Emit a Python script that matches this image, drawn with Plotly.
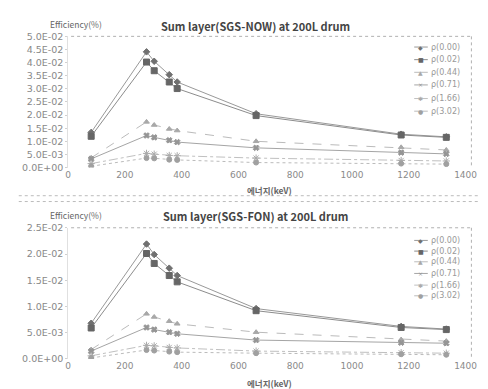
import plotly.graph_objects as go

W, H = 488, 389

energy_kev = [81, 276, 303, 356, 384, 662, 1173, 1332]
series_names = ["ρ(0.00)", "ρ(0.02)", "ρ(0.44)", "ρ(0.71)", "ρ(1.66)", "ρ(3.02)"]

now_eff_000 = [0.0134, 0.0441, 0.0405, 0.0354, 0.0326, 0.0205, 0.0127, 0.0117]
now_eff_002 = [0.0119, 0.0402, 0.0369, 0.0326, 0.0301, 0.0198, 0.0124, 0.0115]
now_eff_044 = [0.0037, 0.0174, 0.0162, 0.0147, 0.0141, 0.0100, 0.0077, 0.0067]
now_eff_071 = [0.0033, 0.0122, 0.0115, 0.0104, 0.0097, 0.0075, 0.0057, 0.0052]
now_eff_166 = [0.0015, 0.0054, 0.0051, 0.0046, 0.0045, 0.0036, 0.0027, 0.0025]
now_eff_302 = [0.0005, 0.0036, 0.0035, 0.0030, 0.0029, 0.0019, 0.0015, 0.0013]

fon_eff_000 = [0.0068, 0.0219, 0.0199, 0.0173, 0.0159, 0.0096, 0.0062, 0.0057]
fon_eff_002 = [0.0059, 0.0201, 0.0182, 0.0159, 0.0147, 0.0092, 0.0060, 0.0056]
fon_eff_044 = [0.0018, 0.0086, 0.0080, 0.0072, 0.0067, 0.0051, 0.0037, 0.0034]
fon_eff_071 = [0.0015, 0.0060, 0.0056, 0.0051, 0.0048, 0.0036, 0.0031, 0.0030]
fon_eff_166 = [0.0006, 0.0026, 0.0025, 0.0022, 0.0021, 0.0015, 0.0012, 0.0011]
fon_eff_302 = [0.0002, 0.0017, 0.0016, 0.0014, 0.0013, 0.0011, 0.0009, 0.0008]

now_series = [now_eff_000, now_eff_002, now_eff_044, now_eff_071, now_eff_166, now_eff_302]
fon_series = [fon_eff_000, fon_eff_002, fon_eff_044, fon_eff_071, fon_eff_166, fon_eff_302]

x_ticks = [0, 200, 400, 600, 800, 1000, 1200, 1400]
now_y_ticks = [0, 0.005, 0.01, 0.015, 0.02, 0.025, 0.03, 0.035, 0.04, 0.045, 0.05]
now_y_labels = ["0.0E+00", "5.0E-03", "1.0E-02", "1.5E-02", "2.0E-02", "2.5E-02",
                "3.0E-02", "3.5E-02", "4.0E-02", "4.5E-02", "5.0E-02"]
fon_y_ticks = [0, 0.005, 0.01, 0.015, 0.02, 0.025]
fon_y_labels = ["0.0E+00", "5.0E-03", "1.0E-02", "1.5E-02", "2.0E-02", "2.5E-02"]

title_now = "Sum layer(SGS-NOW) at 200L drum"
title_fon = "Sum layer(SGS-FON) at 200L drum"
y_title = "Efficiency(%)"
x_title = "에너지(keV)"

# styles (grayscale scan look)
styles = [
    dict(lc="#999999", dash="solid", sym="diamond", ms=5, mc="#707070", glyph="◆"),
    dict(lc="#8c8c8c", dash="solid", sym="square", ms=6, mc="#666666", glyph="■"),
    dict(lc="#bbbbbb", dash="dash", sym="triangle-up", ms=5, mc="#a8a8a8", glyph="▲"),
    dict(lc="#a5a5a5", dash="solid", sym="x", ms=5, mc="#959595", glyph="×"),
    dict(lc="#c0c0c0", dash="dashdot", sym="asterisk-open", ms=6, mc="#aaaaaa", glyph="✱"),
    dict(lc="#bbbbbb", dash="dot", sym="circle", ms=5, mc="#a0a0a0", glyph="●"),
]

FONT = "Noto Sans CJK KR, DejaVu Sans, sans-serif"

def px(x):
    return x / W

def py(y):
    return 1 - y / H

fig = go.Figure()

for i, (name, st) in enumerate(zip(series_names, styles)):
    for xa, ya, data in (("x", "y", now_series[i]), ("x2", "y2", fon_series[i])):
        fig.add_trace(go.Scatter(
            x=energy_kev, y=data, name=name, mode="lines+markers",
            line=dict(color=st["lc"], width=1, dash=st["dash"]),
            marker=dict(symbol=st["sym"], size=st["ms"], color=st["mc"],
                        line=dict(color=st["mc"], width=1)),
            xaxis=xa, yaxis=ya, showlegend=False))

x_dom = [px(59), px(469)]
tick_font = dict(family="DejaVu Sans, sans-serif", size=9, color="#8a8a8a")

common_x = dict(range=[0, 1400], tickvals=x_ticks, ticktext=[str(v) for v in x_ticks],
                showgrid=False, zeroline=False, showline=False, ticks="",
                tickfont=tick_font)
common_y = dict(showgrid=False, zeroline=False, showline=True, linecolor="#e0e0e0",
                linewidth=1, ticks="outside", ticklen=2, tickcolor="#d0d0d0",
                tickfont=dict(family="DejaVu Sans, sans-serif", size=9.5, color="#888888"))

fig.update_layout(
    width=W, height=H, margin=dict(l=0, r=0, t=0, b=0),
    paper_bgcolor="white", plot_bgcolor="white",
    xaxis=dict(domain=x_dom, anchor="y", **common_x),
    yaxis=dict(domain=[py(158), py(23)], anchor="x", range=[0, 0.05],
               tickvals=now_y_ticks, ticktext=now_y_labels, **common_y),
    xaxis2=dict(domain=x_dom, anchor="y2", **common_x),
    yaxis2=dict(domain=[py(355), py(220)], anchor="x2", range=[0, 0.025],
                tickvals=fon_y_ticks, ticktext=fon_y_labels, **common_y),
)

shapes = []
annotations = []

# plot-area dotted borders (top and right)
for (top, bot) in [(23, 158), (220, 355)]:
    shapes.append(dict(type="line", xref="paper", yref="paper",
                       x0=px(62), x1=px(475), y0=py(top), y1=py(top),
                       line=dict(color="#b0b0b0", width=1, dash="dot")))
    shapes.append(dict(type="line", xref="paper", yref="paper",
                       x0=px(475), x1=px(475), y0=py(top), y1=py(bot),
                       line=dict(color="#b0b0b0", width=1, dash="dot")))

# separator between the two charts
for yy in (187, 193):
    shapes.append(dict(type="line", xref="paper", yref="paper",
                       x0=px(8), x1=px(482), y0=py(yy), y1=py(yy),
                       line=dict(color="#bbbbbb", width=1, dash="dot")))

# titles
for title, ty, ey, xt_y in [(title_now, 12, 10, 181), (title_fon, 208, 207, 380)]:
    annotations.append(dict(text="<b>" + title + "</b>", xref="paper", yref="paper",
                            x=px(252), y=py(ty), xanchor="center", yanchor="middle",
                            showarrow=False,
                            font=dict(family=FONT, size=11, color="#444444")))
    annotations.append(dict(text=y_title, xref="paper", yref="paper",
                            x=px(67), y=py(ey), xanchor="center", yanchor="middle",
                            showarrow=False,
                            font=dict(family=FONT, size=8.5, color="#666666")))
    annotations.append(dict(text="<b>" + x_title + "</b>", xref="paper", yref="paper",
                            x=px(267), y=py(xt_y), xanchor="center", yanchor="middle",
                            showarrow=False,
                            font=dict(family=FONT, size=8.5, color="#666666")))

# manual compact legends
legend_rows = [
    [34, 47, 60, 73, 87, 100],
    [233, 244, 255, 267, 279, 290],
]
for rows in legend_rows:
    for name, st, yy in zip(series_names, styles, rows):
        shapes.append(dict(type="line", xref="paper", yref="paper",
                           x0=px(416), x1=px(430), y0=py(yy), y1=py(yy),
                           line=dict(color=st["lc"], width=1, dash="solid")))
        annotations.append(dict(text=st["glyph"], xref="paper", yref="paper",
                                x=px(423), y=py(yy), xanchor="center", yanchor="middle",
                                showarrow=False,
                                font=dict(family="DejaVu Sans, sans-serif", size=6,
                                          color=st["mc"])))
        annotations.append(dict(text=name, xref="paper", yref="paper",
                                x=px(431), y=py(yy), xanchor="left", yanchor="middle",
                                showarrow=False,
                                font=dict(family="DejaVu Sans, sans-serif", size=8,
                                          color="#999999")))

fig.update_layout(shapes=shapes, annotations=annotations)

fig.write_html("out.html")
